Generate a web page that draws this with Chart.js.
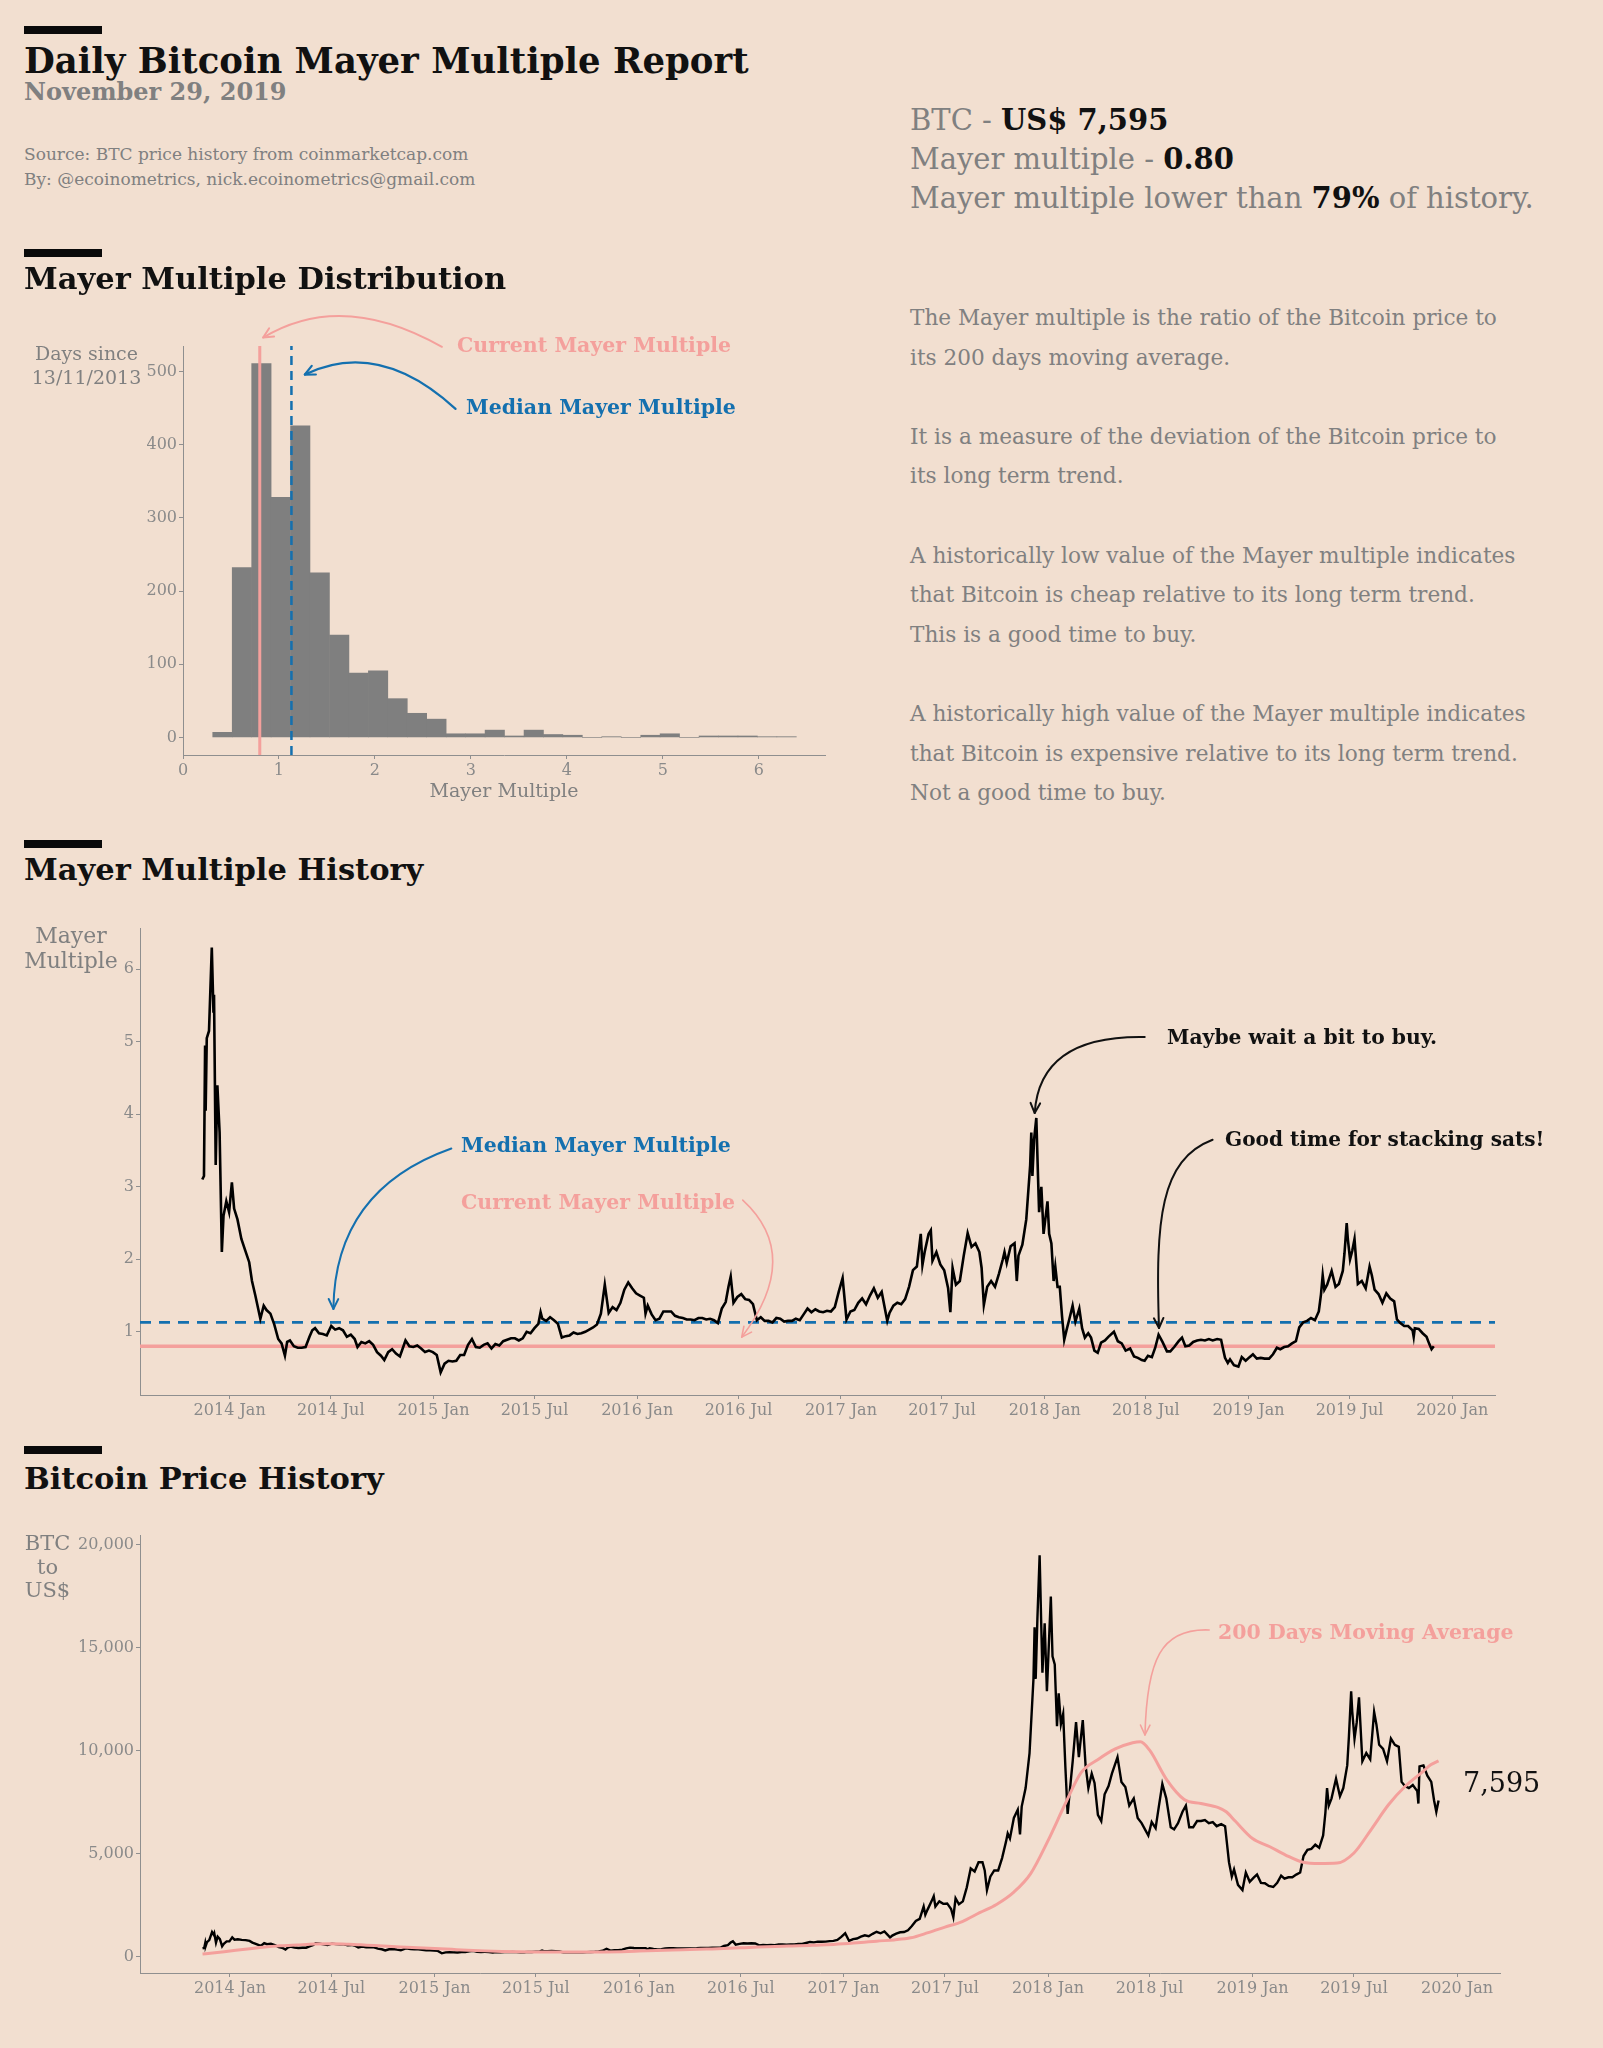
<!DOCTYPE html>
<html><head><meta charset="utf-8">
<script src="https://cdn.jsdelivr.net/npm/chart.js@4.4.1/dist/chart.umd.min.js"></script>
<style>
html,body{margin:0;padding:0;background:#F2DFD0;}
#page{position:relative;width:1603px;height:2048px;overflow:hidden;background:#F2DFD0;font-family:'DejaVu Serif','Liberation Serif',serif;}
.t{position:absolute;line-height:1;white-space:nowrap;z-index:5;}
.bar{position:absolute;left:24px;width:78px;height:8px;background:#0a0a0a;}
canvas{position:absolute;left:0;}
.g{color:#808080}
.k{color:#111;font-weight:bold}
.pink{color:#F4A09C;font-weight:bold}
.blue{color:#1470AF;font-weight:bold}
</style></head>
<body><div id="page">
<canvas id="hist" width="880" height="530" style="top:280px"></canvas>
<canvas id="mmh" width="1603" height="540" style="top:900px"></canvas>
<canvas id="price" width="1603" height="548" style="top:1500px"></canvas>

<div class="bar" style="top:26px"></div>
<div class="t k" style="left:24px;top:43px;font-size:35.5px;">Daily Bitcoin Mayer Multiple Report</div>
<div class="t g" style="left:24px;top:80px;font-size:24px;font-weight:bold;">November 29, 2019</div>
<div class="t g" style="left:24px;top:146px;font-size:17px;">Source: BTC price history from coinmarketcap.com</div>
<div class="t g" style="left:24px;top:171px;font-size:17px;">By: @ecoinometrics, nick.ecoinometrics@gmail.com</div>

<div class="t g" style="left:910px;top:105.5px;font-size:29px;">BTC - <span class="k">US$ 7,595</span></div>
<div class="t g" style="left:910px;top:144.5px;font-size:29px;">Mayer multiple - <span class="k">0.80</span></div>
<div class="t g" style="left:910px;top:183.5px;font-size:29px;">Mayer multiple lower than <span class="k">79%</span> of history.</div>

<div class="bar" style="top:249px"></div>
<div class="t k" style="left:24px;top:263px;font-size:30.5px;">Mayer Multiple Distribution</div>

<div class="t g" style="left:910px;top:298px;font-size:21.6px;line-height:39.6px;">The Mayer multiple is the ratio of the Bitcoin price to<br>its 200 days moving average.<br><br>It is a measure of the deviation of the Bitcoin price to<br>its long term trend.<br><br>A historically low value of the Mayer multiple indicates<br>that Bitcoin is cheap relative to its long term trend.<br>This is a good time to buy.<br><br>A historically high value of the Mayer multiple indicates<br>that Bitcoin is expensive relative to its long term trend.<br>Not a good time to buy.</div>

<div class="t g" style="left:26px;width:121px;text-align:center;top:341px;font-size:19px;line-height:24px;">Days since<br>13/11/2013</div>
<div class="t g" style="left:404px;width:200px;text-align:center;top:781px;font-size:19px;">Mayer Multiple</div>
<div class="t pink" style="left:457px;top:334.5px;font-size:20.5px;">Current Mayer Multiple</div>
<div class="t blue" style="left:466px;top:396.7px;font-size:20.5px;">Median Mayer Multiple</div>

<div class="bar" style="top:840px"></div>
<div class="t k" style="left:24px;top:854.4px;font-size:30.5px;">Mayer Multiple History</div>
<div class="t g" style="left:11px;width:120px;text-align:center;top:923px;font-size:22px;line-height:25px;">Mayer<br>Multiple</div>
<div class="t blue" style="left:461px;top:1135px;font-size:20.5px;">Median Mayer Multiple</div>
<div class="t pink" style="left:461px;top:1191.7px;font-size:20.5px;">Current Mayer Multiple</div>
<div class="t k" style="left:1167px;top:1026.7px;font-size:20.3px;">Maybe wait a bit to buy.</div>
<div class="t k" style="left:1225px;top:1128.7px;font-size:20.1px;">Good time for stacking sats!</div>

<div class="bar" style="top:1446px"></div>
<div class="t k" style="left:24px;top:1463.2px;font-size:30.5px;">Bitcoin Price History</div>
<div class="t g" style="left:0px;width:95px;text-align:center;top:1532px;font-size:21px;line-height:23.5px;">BTC<br>to<br>US$</div>
<div class="t pink" style="left:1218px;top:1621.7px;font-size:20.5px;">200 Days Moving Average</div>
<div class="t" style="left:1463px;top:1768.8px;font-size:27px;color:#111;">7,595</div>
</div>

<script>
// ---------------- DATA ----------------
const dates = [
'2013-11-13','2013-11-16','2013-11-18','2013-11-19','2013-11-21','2013-11-25','2013-11-30',
'2013-12-03','2013-12-04','2013-12-07','2013-12-10','2013-12-14','2013-12-18','2013-12-21','2013-12-26','2013-12-31',
'2014-01-05','2014-01-09','2014-01-15','2014-01-22','2014-01-29',
'2014-02-05','2014-02-10','2014-02-16','2014-02-25',
'2014-03-03','2014-03-08','2014-03-15','2014-03-22','2014-03-29',
'2014-04-04','2014-04-10','2014-04-14','2014-04-19','2014-04-26',
'2014-05-03','2014-05-10','2014-05-17','2014-05-24','2014-05-29',
'2014-06-03','2014-06-10','2014-06-17','2014-06-24',
'2014-07-02','2014-07-09','2014-07-16','2014-07-23','2014-07-30',
'2014-08-06','2014-08-13','2014-08-18','2014-08-25',
'2014-09-01','2014-09-08','2014-09-15','2014-09-22','2014-09-29',
'2014-10-05','2014-10-12','2014-10-19','2014-10-26',
'2014-11-02','2014-11-12','2014-11-19','2014-11-26',
'2014-12-03','2014-12-10','2014-12-17','2014-12-24','2014-12-31',
'2015-01-07','2015-01-14','2015-01-21','2015-01-28',
'2015-02-04','2015-02-11','2015-02-18','2015-02-25',
'2015-03-04','2015-03-11','2015-03-18','2015-03-25',
'2015-04-01','2015-04-08','2015-04-15','2015-04-22','2015-04-29',
'2015-05-06','2015-05-13','2015-05-20','2015-05-27',
'2015-06-03','2015-06-10','2015-06-17','2015-06-24',
'2015-07-01','2015-07-08','2015-07-12','2015-07-15','2015-07-22','2015-07-29',
'2015-08-05','2015-08-12','2015-08-19','2015-08-26',
'2015-09-02','2015-09-09','2015-09-16','2015-09-23','2015-09-30',
'2015-10-07','2015-10-14','2015-10-21','2015-10-28',
'2015-11-04','2015-11-11','2015-11-18','2015-11-25',
'2015-12-02','2015-12-09','2015-12-16','2015-12-23','2015-12-30',
'2016-01-06','2016-01-13','2016-01-16','2016-01-20','2016-01-27',
'2016-02-03','2016-02-10','2016-02-17','2016-02-24',
'2016-03-02','2016-03-09','2016-03-16','2016-03-23','2016-03-30',
'2016-04-06','2016-04-13','2016-04-20','2016-04-27',
'2016-05-04','2016-05-11','2016-05-18','2016-05-25',
'2016-06-01','2016-06-08','2016-06-13','2016-06-17','2016-06-22','2016-06-29',
'2016-07-06','2016-07-13','2016-07-20','2016-07-27',
'2016-08-03','2016-08-10','2016-08-17','2016-08-24','2016-08-31',
'2016-09-07','2016-09-14','2016-09-21','2016-09-28',
'2016-10-05','2016-10-12','2016-10-19','2016-10-26',
'2016-11-02','2016-11-09','2016-11-16','2016-11-23','2016-11-30',
'2016-12-07','2016-12-14','2016-12-21','2016-12-28',
'2017-01-04','2017-01-11','2017-01-18','2017-01-25',
'2017-02-01','2017-02-08','2017-02-15','2017-02-22',
'2017-03-01','2017-03-08','2017-03-15','2017-03-22','2017-03-25','2017-03-29',
'2017-04-05','2017-04-12','2017-04-19','2017-04-26',
'2017-05-03','2017-05-10','2017-05-17','2017-05-24','2017-05-27','2017-05-31',
'2017-06-07','2017-06-11','2017-06-14','2017-06-21','2017-06-28',
'2017-07-05','2017-07-12','2017-07-16','2017-07-20','2017-07-26',
'2017-08-02','2017-08-09','2017-08-16','2017-08-23','2017-08-30',
'2017-09-06','2017-09-10','2017-09-14','2017-09-20','2017-09-27',
'2017-10-04','2017-10-11','2017-10-18','2017-10-21','2017-10-25',
'2017-11-01','2017-11-08','2017-11-12','2017-11-15','2017-11-22','2017-11-29',
'2017-12-06','2017-12-08','2017-12-10','2017-12-13','2017-12-17','2017-12-20','2017-12-22','2017-12-26','2017-12-30',
'2018-01-06','2018-01-09','2018-01-13','2018-01-17','2018-01-20','2018-01-24','2018-01-28',
'2018-02-01','2018-02-05','2018-02-09','2018-02-14','2018-02-20','2018-02-25',
'2018-03-04','2018-03-09','2018-03-14','2018-03-20','2018-03-25','2018-03-31',
'2018-04-06','2018-04-12','2018-04-19','2018-04-25',
'2018-05-05','2018-05-12','2018-05-19','2018-05-26',
'2018-06-03','2018-06-10','2018-06-17','2018-06-24','2018-06-29',
'2018-07-05','2018-07-12','2018-07-18','2018-07-24','2018-07-31',
'2018-08-08','2018-08-14','2018-08-21','2018-08-29',
'2018-09-04','2018-09-10','2018-09-17','2018-09-24',
'2018-10-01','2018-10-08','2018-10-15','2018-10-22','2018-10-29',
'2018-11-06','2018-11-13','2018-11-16','2018-11-20','2018-11-25','2018-11-29',
'2018-12-06','2018-12-14','2018-12-20','2018-12-27',
'2019-01-03','2019-01-09','2019-01-16','2019-01-23','2019-01-30',
'2019-02-07','2019-02-14','2019-02-21','2019-02-27',
'2019-03-06','2019-03-13','2019-03-20','2019-03-27',
'2019-04-02','2019-04-09','2019-04-16','2019-04-23','2019-04-30',
'2019-05-07','2019-05-11','2019-05-14','2019-05-17','2019-05-22','2019-05-30',
'2019-06-06','2019-06-12','2019-06-19','2019-06-22','2019-06-26','2019-06-28',
'2019-07-02','2019-07-06','2019-07-10','2019-07-16','2019-07-23','2019-07-30',
'2019-08-06','2019-08-10','2019-08-15','2019-08-22','2019-08-29',
'2019-09-05','2019-09-12','2019-09-19','2019-09-24','2019-09-30',
'2019-10-07','2019-10-14','2019-10-22','2019-10-24','2019-10-26',
'2019-11-02','2019-11-09','2019-11-16','2019-11-21','2019-11-25','2019-11-29'
];

const mmValues = [
3.10,3.15,4.95,4.05,5.05,5.15,6.30,
5.40,5.65,3.30,4.40,3.75,2.10,2.60,2.80,2.65,
3.06,2.70,2.55,2.28,2.12,
1.96,1.70,1.50,1.18,
1.36,1.30,1.25,1.10,0.90,
0.84,0.67,0.86,0.88,0.80,
0.78,0.78,0.79,0.93,1.02,
1.05,0.98,0.97,0.95,
1.08,1.03,1.05,1.02,0.93,
0.96,0.90,0.79,0.86,
0.84,0.87,0.82,0.72,0.67,
0.61,0.72,0.76,0.70,
0.66,0.88,0.80,0.79,
0.81,0.77,0.72,0.74,0.72,
0.68,0.44,0.56,0.60,
0.59,0.60,0.68,0.68,
0.82,0.90,0.79,0.78,
0.82,0.84,0.77,0.83,0.81,
0.87,0.89,0.91,0.91,
0.88,0.91,1.00,0.98,
1.05,1.11,1.27,1.18,1.15,1.20,
1.16,1.11,0.92,0.94,
0.95,0.99,0.97,0.98,1.00,
1.03,1.06,1.10,1.25,
1.65,1.26,1.34,1.30,
1.40,1.58,1.68,1.60,1.53,
1.50,1.47,1.25,1.36,1.24,
1.16,1.18,1.28,1.28,
1.28,1.22,1.20,1.19,1.17,
1.17,1.16,1.19,1.19,
1.17,1.18,1.16,1.12,
1.32,1.41,1.62,1.76,1.40,1.48,
1.52,1.45,1.44,1.38,
1.16,1.20,1.15,1.15,1.13,
1.19,1.18,1.14,1.15,
1.15,1.18,1.16,1.24,
1.32,1.27,1.31,1.28,1.27,
1.29,1.28,1.34,1.55,
1.74,1.17,1.28,1.30,
1.40,1.46,1.38,1.50,
1.60,1.47,1.55,1.27,1.15,1.26,
1.36,1.40,1.38,1.45,
1.62,1.85,1.90,2.35,1.92,2.10,
2.35,2.40,1.98,2.10,1.93,
1.85,1.60,1.27,1.88,1.65,
1.70,2.05,2.36,2.17,2.22,
2.10,1.88,1.37,1.62,1.70,
1.62,1.80,2.00,2.10,1.95,
2.18,2.22,1.70,2.05,2.20,2.55,
3.30,3.75,3.15,3.65,3.95,3.15,2.65,3.00,2.35,
2.80,2.35,2.22,1.70,1.90,1.62,1.62,
1.22,0.89,1.02,1.17,1.36,1.14,
1.32,1.05,0.92,0.98,0.92,0.74,
0.71,0.85,0.88,0.93,
1.00,0.87,0.84,0.74,
0.77,0.66,0.64,0.61,0.60,
0.67,0.65,0.78,0.96,0.86,
0.73,0.73,0.79,0.87,
0.92,0.80,0.81,0.86,
0.88,0.89,0.88,0.90,0.88,
0.90,0.89,0.78,0.64,0.57,0.62,
0.54,0.52,0.65,0.60,
0.65,0.69,0.63,0.64,0.63,
0.63,0.69,0.78,0.76,
0.79,0.80,0.84,0.87,
1.06,1.13,1.15,1.19,1.16,
1.28,1.52,1.78,1.58,1.65,1.84,
1.62,1.66,1.84,2.08,2.50,2.28,
2.00,2.12,2.28,1.66,1.70,1.60,
1.90,1.78,1.58,1.52,1.40,
1.53,1.46,1.42,1.17,1.12,
1.08,1.08,1.02,0.93,1.05,
1.04,0.98,0.93,0.83,0.76,0.80
];

const priceValues = [
420,440,700,560,720,820,1210,
1080,1150,700,990,870,520,640,760,760,
950,840,860,830,820,
780,700,640,540,
670,620,640,580,480,
450,360,460,500,460,
440,450,450,525,575,
665,650,615,585,
650,625,620,620,570,
585,540,460,510,
475,480,470,405,375,
320,375,390,355,
325,425,380,370,
375,350,320,325,315,
295,178,225,235,
225,220,245,237,
280,295,255,245,
247,245,220,235,225,
235,237,240,237,
225,230,250,242,
258,270,310,285,277,289,
280,265,225,230,
228,238,230,230,236,
245,253,267,305,
400,310,335,330,
360,415,455,440,430,
430,430,375,420,390,
370,380,420,425,
430,415,415,418,415,
420,425,440,445,
445,455,455,450,
535,580,700,760,600,640,
670,655,665,655,
565,590,575,580,575,
610,610,595,605,
612,637,630,678,
730,710,745,740,745,
770,780,830,975,
1150,780,870,895,
985,1050,1010,1125,
1225,1150,1240,1040,940,1040,
1135,1200,1210,1300,
1500,1750,1850,2450,2050,2300,
2700,2950,2450,2700,2580,
2600,2330,1930,2850,2560,
2700,3380,4300,4150,4600,
4600,4200,3250,3900,4200,
4200,4800,5600,6000,5750,
6750,7150,5950,7300,8200,9900,
13500,16000,13500,16400,19500,16000,13800,16200,12900,
17500,14600,14200,11200,12800,11300,11800,
9200,6950,8100,9500,11400,9700,
11500,9300,8200,8900,8450,6900,
6600,7900,8300,8900,
9700,8500,8250,7350,
7700,6750,6500,6150,5900,
6550,6250,7350,8400,7700,
6300,6200,6500,7050,
7350,6300,6300,6600,
6600,6650,6500,6550,6350,
6450,6350,5600,4600,3900,4250,
3500,3250,4100,3650,
3850,4000,3600,3580,3450,
3400,3600,3950,3800,
3870,3870,4000,4100,
4900,5200,5250,5450,5300,
5900,7000,8200,7350,7700,8650,
7800,8200,9300,10700,12900,11900,
10600,11400,12600,9500,9900,9600,
11900,11300,10300,10100,9500,
10600,10300,10200,8500,8300,
8200,8350,8050,7450,9250,
9300,8800,8500,7600,7050,7595
];

const maDates = ['2013-11-13','2013-12-01',
'2014-01-01','2014-02-01','2014-03-01','2014-04-01','2014-05-01','2014-06-01','2014-07-01','2014-08-01','2014-09-01','2014-10-01','2014-11-01','2014-12-01',
'2015-01-01','2015-02-01','2015-03-01','2015-04-01','2015-05-01','2015-06-01','2015-07-01','2015-08-01','2015-09-01','2015-10-01','2015-11-01','2015-12-01',
'2016-01-01','2016-02-01','2016-03-01','2016-04-01','2016-05-01','2016-06-01','2016-07-01','2016-08-01','2016-09-01','2016-10-01','2016-11-01','2016-12-01',
'2017-01-01','2017-02-01','2017-03-01','2017-04-01','2017-05-01','2017-06-01','2017-07-01','2017-08-01','2017-09-01','2017-10-01','2017-11-01','2017-12-01',
'2018-01-01','2018-02-01','2018-03-01','2018-04-01','2018-05-01','2018-06-01','2018-06-15','2018-07-01','2018-08-01','2018-09-01','2018-10-01','2018-11-01','2018-11-15','2018-12-01',
'2019-01-01','2019-02-01','2019-03-01','2019-04-01','2019-05-01','2019-06-01','2019-07-01','2019-08-01','2019-09-01','2019-10-01','2019-11-01','2019-11-15','2019-11-29'];
const maValues = [140,190,
290,390,470,540,585,630,645,620,575,530,485,450,
415,370,330,297,272,255,246,242,240,239,243,258,
285,315,340,362,385,410,445,480,510,535,560,590,
640,700,770,830,930,1180,1450,1720,2150,2550,3150,4050,
5650,7450,8950,9600,10100,10400,10450,10050,8600,7650,7450,7250,7050,6600,
5750,5350,4950,4600,4540,4560,5050,6200,7400,8300,9000,9330,9520];

const histBins = [0.411,0.614,0.817,1.019,1.222,1.425,1.628,1.830,2.033,2.236,2.438,2.641,2.844,3.047,3.249,3.452,3.655,3.857,4.060,4.263,4.465,4.668,4.871,5.073,5.276,5.479,5.682,5.884,6.087,6.290];
const histCounts = [7,232,511,328,426,225,140,88,91,53,33,25,5,5,10,2,10,4,3,0,1,0,3,5,0,2,2,2,1,1];
const histXTicks = [0,1,2,3,4,5,6];
const histYTicks = [0,100,200,300,400,500];
const mmTicks = [1,2,3,4,5,6];
const priceTicks = [0,5000,10000,15000,20000];
const priceTickLabels = ['0','5,000','10,000','15,000','20,000'];
const xTickDates = ['2014-01-01','2014-07-01','2015-01-01','2015-07-01','2016-01-01','2016-07-01','2017-01-01','2017-07-01','2018-01-01','2018-07-01','2019-01-01','2019-07-01','2020-01-01'];
const xTickLabels = ['2014 Jan','2014 Jul','2015 Jan','2015 Jul','2016 Jan','2016 Jul','2017 Jan','2017 Jul','2018 Jan','2018 Jul','2019 Jan','2019 Jul','2020 Jan'];
const currentMM = 0.80;
const medianMM = 1.13;

// ---------------- STYLE ----------------
const FONT = "'DejaVu Serif','Liberation Serif',serif";
const PINK = '#F4A09C', BLUE = '#1470AF', AXIS = '#8f8f8f', TICK = '#8a8a8a';
const XMIN = 2013.56, XMAX = 2020.21;
Chart.defaults.font.family = FONT;

function decYear(s){
  const p = s.split('-').map(Number);
  const a = Date.UTC(p[0],0,1), b = Date.UTC(p[0]+1,0,1);
  return p[0] + (Date.UTC(p[0],p[1]-1,p[2]) - a) / (b - a);
}

const arrowPlugin = {
  id: 'arrows',
  afterDatasetsDraw(chart, args, opts){
    const ctx = chart.ctx, sx = chart.scales.x, sy = chart.scales.y;
    (opts.items || []).forEach(a => {
      const p = a.pts.map(v => [sx.getPixelForValue(v[0]), sy.getPixelForValue(v[1])]);
      ctx.save();
      ctx.strokeStyle = a.color; ctx.lineWidth = a.width; ctx.lineCap = 'round'; ctx.lineJoin = 'round';
      ctx.beginPath(); ctx.moveTo(p[0][0], p[0][1]);
      if (p.length === 3) ctx.quadraticCurveTo(p[1][0], p[1][1], p[2][0], p[2][1]);
      else ctx.bezierCurveTo(p[1][0], p[1][1], p[2][0], p[2][1], p[3][0], p[3][1]);
      ctx.stroke();
      const e = p[p.length-1], c = p[p.length-2];
      const ang = Math.atan2(e[1]-c[1], e[0]-c[0]), L = 11, w = Math.PI/7;
      ctx.beginPath();
      ctx.moveTo(e[0]-L*Math.cos(ang-w), e[1]-L*Math.sin(ang-w));
      ctx.lineTo(e[0], e[1]);
      ctx.lineTo(e[0]-L*Math.cos(ang+w), e[1]-L*Math.sin(ang+w));
      ctx.stroke();
      ctx.restore();
    });
  }
};

function scaleCfg(min, max, tickVals, labelFn, fitFn){
  return {
    type: 'linear', min: min, max: max, offset: false,
    border: {display: true, color: AXIS, width: 1},
    grid: {display: true, drawOnChartArea: false, drawTicks: true, tickLength: 4, color: AXIS, lineWidth: 1, offset: false},
    ticks: {color: TICK, font: {family: FONT, size: 16}, autoSkip: false, maxRotation: 0, minRotation: 0, padding: 2,
            callback: (v, i) => labelFn(i)},
    afterBuildTicks: s => { s.ticks = tickVals.map(v => ({value: v})); },
    afterFit: fitFn
  };
}
const common = {responsive: false, animation: false, events: [], maintainAspectRatio: false};

// ---------------- HISTOGRAM ----------------
new Chart(document.getElementById('hist'), {
  type: 'bar',
  data: {datasets: [
    {type: 'line', data: [{x: currentMM, y: -24}, {x: currentMM, y: 535}], borderColor: PINK, borderWidth: 3, pointRadius: 0},
    {type: 'line', data: [{x: medianMM, y: -24}, {x: medianMM, y: 535}], borderColor: BLUE, borderWidth: 2.5, borderDash: [9, 6], pointRadius: 0},
    {type: 'bar', data: histBins.map((b, i) => ({x: b, y: histCounts[i]})), backgroundColor: '#7f7f7f', borderWidth: 0, barPercentage: 1, categoryPercentage: 1}
  ]},
  options: Object.assign({}, common, {
    layout: {padding: {left: 0, top: 66, right: 55, bottom: 0}},
    plugins: {legend: {display: false}, tooltip: {enabled: false},
      arrows: {items: [
        {pts: [[2.698, 533.9], [1.655, 611.5], [0.835, 546.6]], color: PINK, width: 2},
        {pts: [[2.840, 449.0], [2.043, 545.0], [1.270, 496.0]], color: BLUE, width: 2.2}
      ]}},
    scales: {
      x: scaleCfg(0, 6.69, histXTicks, i => String(histXTicks[i]), s => { s.height = 55; }),
      y: scaleCfg(-24, 535, histYTicks, i => String(histYTicks[i]), s => { s.width = 183; })
    }
  }),
  plugins: [arrowPlugin]
});

// ---------------- MAYER MULTIPLE HISTORY ----------------
const n = Math.min(dates.length, mmValues.length, priceValues.length);
const xv = dates.slice(0, n).map(decYear);
new Chart(document.getElementById('mmh'), {
  type: 'line',
  data: {datasets: [
    {data: xv.map((x, i) => ({x: x, y: mmValues[i]})), borderColor: '#000', borderWidth: 2.6, pointRadius: 0, tension: 0},
    {data: [{x: XMIN, y: medianMM}, {x: XMAX, y: medianMM}], borderColor: BLUE, borderWidth: 2.6, borderDash: [11, 8], pointRadius: 0},
    {data: [{x: XMIN, y: currentMM}, {x: XMAX, y: currentMM}], borderColor: PINK, borderWidth: 3.5, pointRadius: 0}
  ]},
  options: Object.assign({}, common, {
    layout: {padding: {left: 0, top: 28, right: 108, bottom: 0}},
    plugins: {legend: {display: false}, tooltip: {enabled: false},
      arrows: {items: [
        {pts: [[2015.088, 3.528], [2014.516, 2.958], [2014.509, 1.315]], color: BLUE, width: 2},
        {pts: [[2016.518, 2.816], [2016.815, 2.050], [2016.513, 0.926]], color: PINK, width: 1.6},
        {pts: [[2018.491, 5.066], [2017.975, 5.094], [2017.951, 4.018]], color: '#111', width: 2},
        {pts: [[2018.824, 3.649], [2018.567, 3.375], [2018.543, 2.548], [2018.561, 1.052]], color: '#111', width: 2}
      ]}},
    scales: {
      x: scaleCfg(XMIN, XMAX, xTickDates.map(decYear), i => xTickLabels[i], s => { s.height = 45; }),
      y: scaleCfg(0.128, 6.57, mmTicks, i => String(mmTicks[i]), s => { s.width = 140; })
    }
  }),
  plugins: [arrowPlugin]
});

// ---------------- PRICE HISTORY ----------------
new Chart(document.getElementById('price'), {
  type: 'line',
  data: {datasets: [
    {data: maDates.map((d, i) => ({x: decYear(d), y: maValues[i]})), borderColor: PINK, borderWidth: 3, pointRadius: 0, cubicInterpolationMode: 'monotone'},
    {data: xv.map((x, i) => ({x: x, y: priceValues[i]})), borderColor: '#000', borderWidth: 2.4, pointRadius: 0, tension: 0}
  ]},
  options: Object.assign({}, common, {
    layout: {padding: {left: 0, top: 35, right: 103, bottom: 0}},
    plugins: {legend: {display: false}, tooltip: {enabled: false},
      arrows: {items: [
        {pts: [[2018.788, 15874], [2018.551, 15971], [2018.483, 14417], [2018.474, 10777]], color: PINK, width: 1.6}
      ]}},
    scales: {
      x: scaleCfg(XMIN, XMAX, xTickDates.map(decYear), i => xTickLabels[i], s => { s.height = 75; }),
      y: scaleCfg(-777, 20485, priceTicks, i => priceTickLabels[i], s => { s.width = 140; })
    }
  }),
  plugins: [arrowPlugin]
});
</script>
</body></html>
